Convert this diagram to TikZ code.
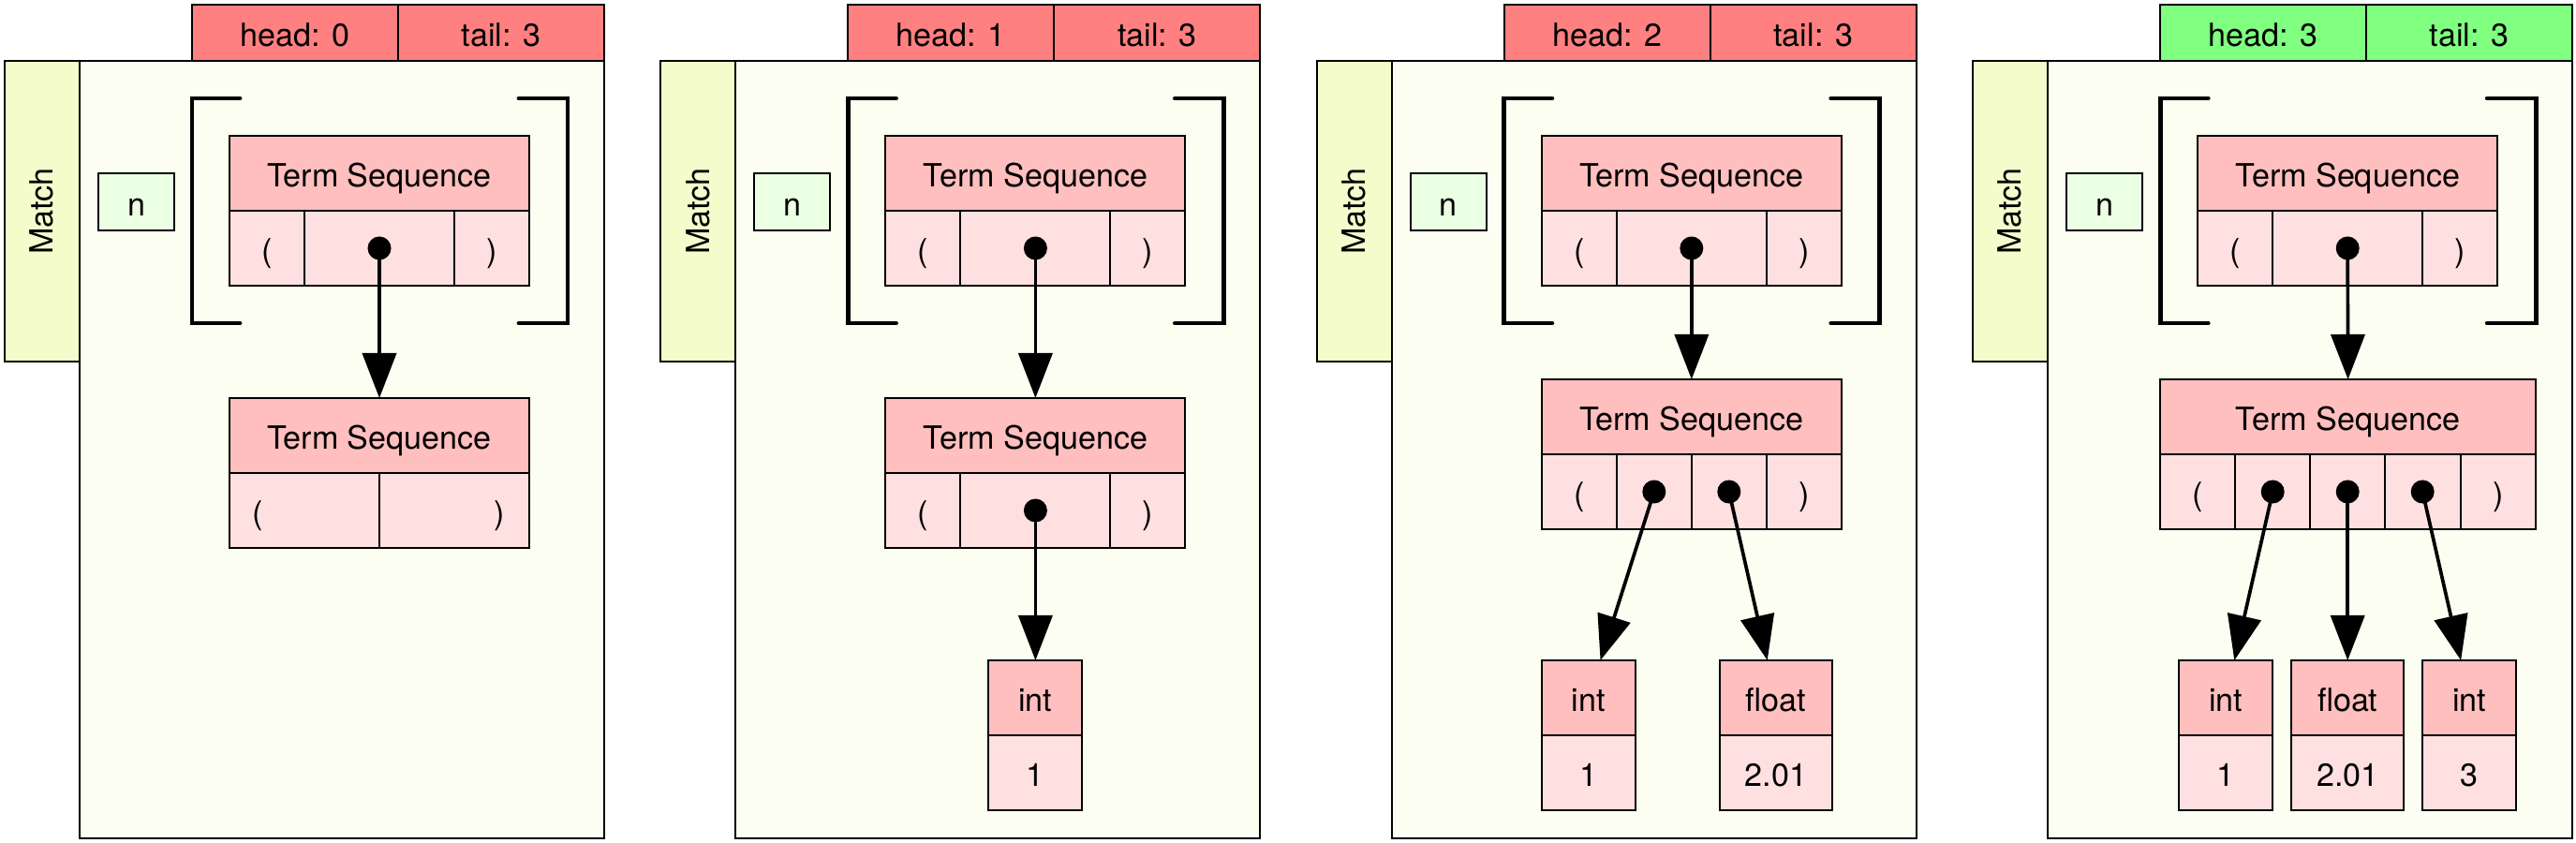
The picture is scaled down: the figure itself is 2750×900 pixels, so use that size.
\documentclass[tikz,border=0pt]{standalone}
\usepackage{fontspec}
\setmainfont{TeX Gyre Heros}
\usetikzlibrary{arrows.meta}
\definecolor{barred}{HTML}{FF8080}
\definecolor{bargreen}{HTML}{80FF80}
\definecolor{tshead}{HTML}{FFBFBF}
\definecolor{tscell}{HTML}{FFE0E0}
\definecolor{matchtab}{HTML}{F3FCCA}
\definecolor{mainbg}{HTML}{FBFEF0}
\definecolor{nbg}{HTML}{EBFFE3}
\newcommand{\rb}[7]{\node[#6, minimum width={(#4-#2)*0.01cm}, minimum height={(#5-#3)*0.01cm}] (#1) at ({(#2+#4)/2},{(#3+#5)/2}) {#7};}
\tikzset{
 bx/.style={draw, line width=0.6pt, inner sep=0pt, outer sep=0pt, text height=0.85em, text depth=0pt},
 hd/.style={bx, fill=tshead},
 cl/.style={bx, fill=tscell},
 txt/.style={inner sep=0pt, outer sep=0pt, text height=0.85em, text depth=0pt},
 dotn/.style={circle, fill=black, inner sep=0pt, minimum size=0.25cm},
 ptr/.style={line width=1.05pt, -{Triangle[length=0.48cm,width=0.36cm]}},
 brk/.style={line width=1.4pt, line cap=round},
}
\newcommand{\panel}[3]{%
 \rb{#1main}{85}{65}{645}{895}{bx, fill=mainbg}{}
 \rb{#1match}{5}{65}{85}{386}{bx, fill=matchtab}{}
 \node[txt, rotate=90, text height=0.66em] (#1matchtxt) at (#1match) {Match};
 \rb{#1head}{205}{5}{425}{65}{bx, fill=#3}{head: #2}
 \rb{#1tail}{425}{5}{645}{65}{bx, fill=#3}{tail: 3}
 \rb{#1n}{105}{185}{186}{246}{bx, fill=nbg}{n}
 \draw[brk] (256,105) -- (205,105) -- (205,345) -- (256,345);
 \draw[brk] (554,105) -- (606,105) -- (606,345) -- (554,345);
 \rb{#1ah}{245}{145}{565}{225}{hd}{Term Sequence}
 \rb{#1al}{245}{225}{325}{305}{cl}{(}
 \rb{#1am}{325}{225}{485}{305}{cl}{}
 \rb{#1ar}{485}{225}{565}{305}{cl}{)}
 \node[dotn] (#1ad) at (405,265) {};
}
\begin{document}
\begin{tikzpicture}[x=0.01cm, y=-0.01cm, font=\fontsize{9.7pt}{11pt}\selectfont]
\useasboundingbox[fill=white] (0,0) rectangle (2750,900);
% panel 1
\begin{scope}
\panel{a}{0}{barred}
\rb{abh}{245}{425}{565}{505}{hd}{Term Sequence}
\rb{abl}{245}{505}{405}{585}{cl}{}
\rb{abr}{405}{505}{565}{585}{cl}{}
\node[txt] (ablt) at (275,545) {(};
\node[txt] (abrt) at (533,545) {)};
\draw[ptr] (aad.center) -- (abh);
\end{scope}
% panel 2
\begin{scope}[xshift=7cm]
\panel{b}{1}{barred}
\rb{bbh}{245}{425}{565}{505}{hd}{Term Sequence}
\rb{bbl}{245}{505}{325}{585}{cl}{(}
\rb{bbm}{325}{505}{485}{585}{cl}{}
\rb{bbr}{485}{505}{565}{585}{cl}{)}
\node[dotn] (bbd) at (405,545) {};
\rb{bch}{355}{705}{455}{785}{hd}{int}
\rb{bcv}{355}{785}{455}{865}{cl}{1}
\draw[ptr] (bad.center) -- (bbh);
\draw[ptr] (bbd.center) -- (bch);
\end{scope}
% panel 3
\begin{scope}[xshift=14cm]
\panel{c}{2}{barred}
\rb{cbh}{245}{405}{565}{485}{hd}{Term Sequence}
\rb{cbl}{245}{485}{325}{565}{cl}{(}
\rb{cbm}{325}{485}{405}{565}{cl}{}
\rb{cbn}{405}{485}{485}{565}{cl}{}
\rb{cbr}{485}{485}{565}{565}{cl}{)}
\node[dotn] (cbd1) at (365,525) {};
\node[dotn] (cbd2) at (445,525) {};
\rb{cch}{245}{705}{345}{785}{hd}{int}
\rb{ccv}{245}{785}{345}{865}{cl}{1}
\rb{cdh}{435}{705}{555}{785}{hd}{float}
\rb{cdv}{435}{785}{555}{865}{cl}{2.01}
\draw[ptr] (cad.center) -- (cbh);
\draw[ptr] (cbd1.center) -- (cch);
\draw[ptr] (cbd2.center) -- (cdh);
\end{scope}
% panel 4
\begin{scope}[xshift=21cm]
\panel{d}{3}{bargreen}
\rb{dbh}{205}{405}{606}{485}{hd}{Term Sequence}
\rb{dbl}{205}{485}{285}{565}{cl}{(}
\rb{dbm}{285}{485}{365}{565}{cl}{}
\rb{dbn}{365}{485}{445}{565}{cl}{}
\rb{dbo}{445}{485}{526}{565}{cl}{}
\rb{dbr}{526}{485}{606}{565}{cl}{)}
\node[dotn] (dbd1) at (325,525) {};
\node[dotn] (dbd2) at (405,525) {};
\node[dotn] (dbd3) at (485,525) {};
\rb{dch}{225}{705}{325}{785}{hd}{int}
\rb{dcv}{225}{785}{325}{865}{cl}{1}
\rb{ddh}{345}{705}{465}{785}{hd}{float}
\rb{ddv}{345}{785}{465}{865}{cl}{2.01}
\rb{deh}{485}{705}{585}{785}{hd}{int}
\rb{dev}{485}{785}{585}{865}{cl}{3}
\draw[ptr] (dad.center) -- (dbh);
\draw[ptr] (dbd1.center) -- (dch);
\draw[ptr] (dbd2.center) -- (ddh);
\draw[ptr] (dbd3.center) -- (deh);
\end{scope}
\end{tikzpicture}
\end{document}
